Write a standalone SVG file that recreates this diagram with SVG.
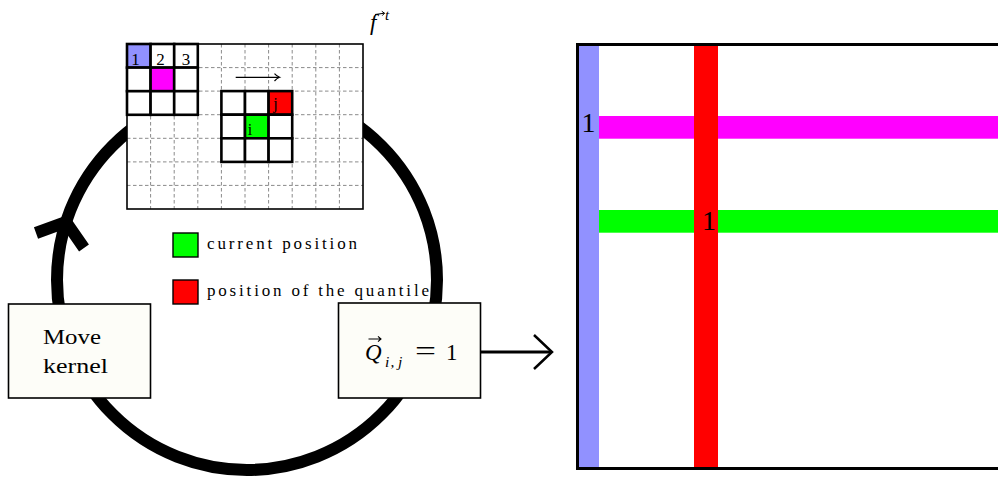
<svg xmlns="http://www.w3.org/2000/svg" width="998" height="478" viewBox="0 0 998 478">
<style>
.serif{font-family:"Liberation Serif","DejaVu Serif",serif;fill:#000}
.it{font-style:italic}
.dash{stroke:#8a8a8a;stroke-width:1;stroke-dasharray:3.5,2.5;fill:none}
.kcell{stroke:#000;stroke-width:2.6}
.box{fill:#fdfdf8;stroke:#000;stroke-width:1.6}
</style>
<rect width="998" height="478" fill="#fff"/>

<g id="connectors">
  <circle cx="247" cy="280" r="190" fill="none" stroke="#000" stroke-width="12"/>
  <path d="M36,233 L66,222 L84,248" fill="none" stroke="#000" stroke-width="12" stroke-linejoin="miter"/>
  <line x1="481" y1="352" x2="551" y2="352" stroke="#000" stroke-width="3"/>
  <path d="M534,335 L552,352 L534,369" fill="none" stroke="#000" stroke-width="2.5"/>
</g>

<g id="feature-grid">
  <rect x="127" y="44" width="236" height="165" fill="#fff"/>
  <g class="dash">
    <path d="M150.6,44V209M174.2,44V209M197.8,44V209M221.4,44V209M245,44V209M268.6,44V209M292.2,44V209M315.8,44V209M339.4,44V209"/>
    <path d="M127,67.6H363M127,91.1H363M127,114.7H363M127,138.3H363M127,161.9H363M127,185.4H363"/>
  </g>
  <rect x="127" y="44" width="236" height="165" fill="none" stroke="#000" stroke-width="1.6"/>
  <g id="kernel-1">
    <rect class="kcell" x="127" y="44" width="23.6" height="23.6" fill="#9191ff"/>
    <rect class="kcell" x="150.6" y="44" width="23.6" height="23.6" fill="#fff"/>
    <rect class="kcell" x="174.2" y="44" width="23.6" height="23.6" fill="#fff"/>
    <rect class="kcell" x="127" y="67.6" width="23.6" height="23.6" fill="#fff"/>
    <rect class="kcell" x="150.6" y="67.6" width="23.6" height="23.6" fill="#ff00ff"/>
    <rect class="kcell" x="174.2" y="67.6" width="23.6" height="23.6" fill="#fff"/>
    <rect class="kcell" x="127" y="91.2" width="23.6" height="23.6" fill="#fff"/>
    <rect class="kcell" x="150.6" y="91.2" width="23.6" height="23.6" fill="#fff"/>
    <rect class="kcell" x="174.2" y="91.2" width="23.6" height="23.6" fill="#fff"/>
    <text class="serif" x="135.5" y="65" font-size="17" text-anchor="middle">1</text>
    <text class="serif" x="160.5" y="65" font-size="17" text-anchor="middle">2</text>
    <text class="serif" x="186" y="65" font-size="17" text-anchor="middle">3</text>
  </g>
  <g id="kernel-2">
    <rect class="kcell" x="221.4" y="91.1" width="23.6" height="23.6" fill="#fff"/>
    <rect class="kcell" x="245" y="91.1" width="23.6" height="23.6" fill="#fff"/>
    <rect class="kcell" x="268.6" y="91.1" width="23.6" height="23.6" fill="#ff0000"/>
    <rect class="kcell" x="221.4" y="114.7" width="23.6" height="23.6" fill="#fff"/>
    <rect class="kcell" x="245" y="114.7" width="23.6" height="23.6" fill="#00ff00"/>
    <rect class="kcell" x="268.6" y="114.7" width="23.6" height="23.6" fill="#fff"/>
    <rect class="kcell" x="221.4" y="138.3" width="23.6" height="23.6" fill="#fff"/>
    <rect class="kcell" x="245" y="138.3" width="23.6" height="23.6" fill="#fff"/>
    <rect class="kcell" x="268.6" y="138.3" width="23.6" height="23.6" fill="#fff"/>
    <text class="serif" x="275.5" y="108.5" font-size="16" text-anchor="middle">j</text>
    <text class="serif" x="250" y="135" font-size="16" text-anchor="middle">i</text>
  </g>
  <line x1="235.7" y1="77.3" x2="279" y2="77.3" stroke="#000" stroke-width="1.3"/>
  <path d="M274.5,73.6 Q277,76.4 279.6,77.3 Q277,78.2 274.5,81" fill="none" stroke="#000" stroke-width="1.2"/>
  <g id="label-f">
    <text class="serif it" x="370" y="30" font-size="23">f</text>
    <text class="serif it" x="385" y="20" font-size="15">t</text>
    <path d="M375,14.5 L384.5,13.2 M381.8,11.3 L384.5,13.2 L382.3,15.6" fill="none" stroke="#000" stroke-width="1"/>
  </g>
</g>

<g id="legend">
  <rect x="173" y="233" width="25" height="24" fill="#00ff00" stroke="#000" stroke-width="1.4"/>
  <text class="serif" x="207" y="249" font-size="17" textLength="150" lengthAdjust="spacing">current position</text>
  <rect x="173" y="280" width="25" height="24" fill="#ff0000" stroke="#000" stroke-width="1.4"/>
  <text class="serif" x="207" y="296" font-size="17" textLength="222" lengthAdjust="spacing">position of the quantile</text>
</g>

<g id="move-kernel">
  <rect class="box" x="8.5" y="304" width="142" height="94"/>
  <text class="serif" x="43" y="344" font-size="22" textLength="58" lengthAdjust="spacingAndGlyphs">Move</text>
  <text class="serif" x="43" y="373" font-size="22" textLength="65" lengthAdjust="spacingAndGlyphs">kernel</text>
</g>

<g id="q-box">
  <rect class="box" x="338.5" y="303" width="142" height="95"/>
  <text class="serif it" x="365" y="360" font-size="23">Q</text>
  <path d="M368.5,339 L381,339 M378,336.3 L381,339 L378,341.7" fill="none" stroke="#000" stroke-width="1.1"/>
  <text class="serif it" x="385" y="367" font-size="15.5">i</text>
  <text class="serif it" x="390.5" y="367" font-size="15.5">,</text>
  <text class="serif it" x="398" y="367" font-size="15.5">j</text>
  <text class="serif" x="415" y="360" font-size="27" textLength="21" lengthAdjust="spacingAndGlyphs">=</text>
  <text class="serif" x="446" y="360" font-size="23">1</text>
</g>

<g id="matrix">
  <rect x="578" y="45" width="21" height="423" fill="#9191ff"/>
  <rect x="599" y="116" width="410" height="22.7" fill="#ff00ff"/>
  <rect x="599" y="210" width="410" height="22.7" fill="#00ff00"/>
  <rect x="694" y="45" width="24" height="423" fill="#ff0000"/>
  <rect x="577.5" y="44.5" width="440" height="424" fill="none" stroke="#000" stroke-width="3"/>
  <text class="serif" x="588.5" y="132" font-size="28" text-anchor="middle">1</text>
  <text class="serif" x="709" y="230" font-size="28" text-anchor="middle">1</text>
</g>
</svg>
